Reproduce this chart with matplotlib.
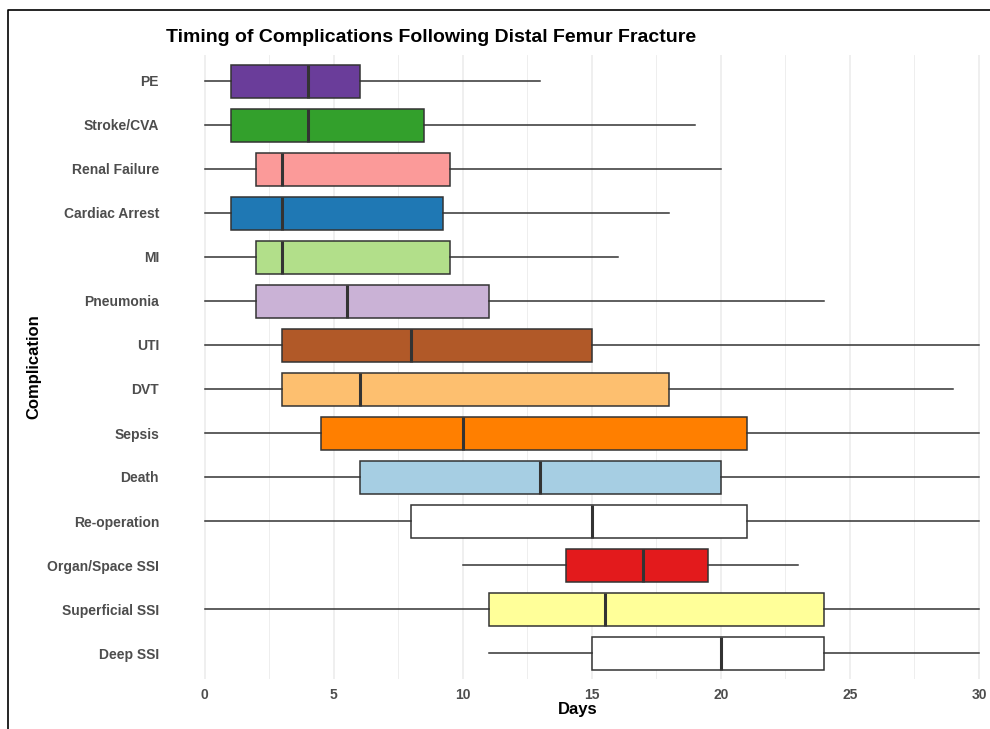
import matplotlib
matplotlib.use("Agg")
import matplotlib.pyplot as plt
from matplotlib.lines import Line2D

plt.rcParams['font.family'] = ['Liberation Sans', 'DejaVu Sans']

complications = ["PE", "Stroke/CVA", "Renal Failure", "Cardiac Arrest", "MI", "Pneumonia",
                 "UTI", "DVT", "Sepsis", "Death", "Re-operation", "Organ/Space SSI",
                 "Superficial SSI", "Deep SSI"]
whisker_low = [0, 0, 0, 0, 0, 0, 0, 0, 0, 0, 0, 10, 0, 11]
q1 = [1, 1, 2, 1, 2, 2, 3, 3, 4.5, 6, 8, 14, 11, 15]
median = [4, 4, 3, 3, 3, 5.5, 8, 6, 10, 13, 15, 17, 15.5, 20]
q3 = [6, 8.5, 9.5, 9.25, 9.5, 11, 15, 18, 21, 20, 21, 19.5, 24, 24]
whisker_high = [13, 19, 20, 18, 16, 24, 30, 29, 30, 30, 30, 23, 30, 30]
colors = ["#6A3D9A", "#33A02C", "#FB9A99", "#1F78B4", "#B2DF8A", "#CAB2D6",
          "#B15928", "#FDBF6F", "#FF7F00", "#A6CEE3", "#FFFFFF", "#E31A1C",
          "#FFFF99", "#FFFFFF"]
x_ticks = [0, 5, 10, 15, 20, 25, 30]

W, H = 990, 729
fig = plt.figure(figsize=(W / 100, H / 100), dpi=100)
left, right, top, bottom = 166, 990, 54.6, 679.4
ax = fig.add_axes([left / W, 1 - bottom / H, (right - left) / W, (bottom - top) / H])

stats = []
for i, name in enumerate(complications):
    stats.append(dict(label=name, whislo=whisker_low[i], q1=q1[i], med=median[i],
                      q3=q3[i], whishi=whisker_high[i], fliers=[]))

positions = list(range(len(complications)))
bp = ax.bxp(stats, positions=positions, widths=0.75, orientation='horizontal',
            patch_artist=True, showcaps=False, showfliers=False,
            boxprops=dict(edgecolor="#333333", linewidth=1.1),
            whiskerprops=dict(color="#333333", linewidth=1.1),
            medianprops=dict(color="#333333", linewidth=2.2, solid_capstyle='butt'))
for patch, c in zip(bp['boxes'], colors):
    patch.set_facecolor(c)
for p in bp['boxes'] + bp['whiskers'] + bp['medians']:
    p.set_zorder(3)

ax.set_ylim(len(complications) - 0.4, -0.6)
ax.set_xlim(-1.5, (right - 205) / 25.8)
ax.set_xticks(x_ticks)
ax.set_xticks([2.5, 7.5, 12.5, 17.5, 22.5, 27.5], minor=True)
ax.set_xticklabels([str(t) for t in x_ticks])
ax.set_yticks(positions)
ax.set_yticklabels(complications)

ax.grid(axis='x', which='major', color="#EBEBEB", linewidth=1.1, zorder=0)
ax.grid(axis='x', which='minor', color="#EBEBEB", linewidth=0.6, zorder=0)
ax.grid(axis='y', visible=False)
ax.set_axisbelow(True)
for s in ax.spines.values():
    s.set_visible(False)
ax.tick_params(axis='both', which='both', length=0)
ax.tick_params(axis='y', pad=5, labelsize=10, labelcolor="#4D4D4D")
ax.tick_params(axis='x', pad=6, labelsize=10, labelcolor="#4D4D4D")
for lab in ax.get_xticklabels() + ax.get_yticklabels():
    lab.set_fontweight('bold')

ax.set_xlabel("Days", fontsize=12, fontweight='bold', color='black', labelpad=0.5)
ax.set_ylabel("Complication", fontsize=12, fontweight='bold', color='black', labelpad=4)

fig.text(left / W, 1 - 38 / H, "Timing of Complications Following Distal Femur Fracture",
         fontsize=14, fontweight='bold', ha='left', va='center', color='black')

# outer frame (left and top edges visible)
fig.add_artist(Line2D([8 / W, 8 / W, 1.0], [0.0, 1 - 10 / H, 1 - 10 / H],
                      transform=fig.transFigure, color='black', linewidth=1.2))

fig.savefig("out.png", dpi=100)
